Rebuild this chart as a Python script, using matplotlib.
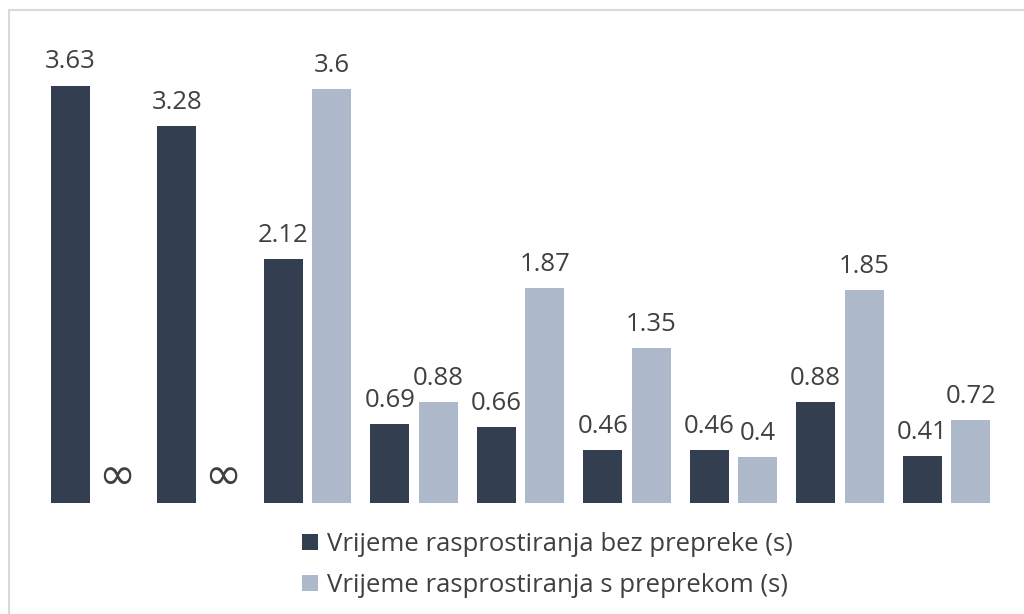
import numpy as np
import matplotlib
matplotlib.use("Agg")
import matplotlib.pyplot as plt
from matplotlib.patches import Rectangle

plt.rcParams['font.family'] = ['Open Sans', 'DejaVu Sans']

no_obstacle = [3.63, 3.28, 2.12, 0.69, 0.66, 0.46, 0.46, 0.88, 0.41]
with_obstacle = [np.inf, np.inf, 3.6, 0.88, 1.87, 1.35, 0.4, 1.85, 0.72]
series_names = ["Vrijeme rasprostiranja bez prepreke (s)",
                "Vrijeme rasprostiranja s preprekom (s)"]
dark = "#333F50"
light = "#ADB9CA"
text_col = "#404040"

fig = plt.figure(figsize=(10.24, 6.14), dpi=100)
ax = fig.add_axes([0, 0, 1, 1])
ax.set_xlim(-94.5 / 106.5, (1024 - 94.5) / 106.5)
ax.set_ylim(-111 / 115, (614 - 111) / 115)
ax.axis('off')

x = np.arange(len(no_obstacle))
w = 0.366
off = 0.228
b1 = ax.bar(x - off, no_obstacle, w, color=dark, label=series_names[0])
finite = [v if np.isfinite(v) else 0 for v in with_obstacle]
b2 = ax.bar(x + off, finite, w, color=light, label=series_names[1])

fs = 18.5
for xi, v in zip(x, no_obstacle):
    ax.annotate(f"{v:g}", (xi - off, v), xytext=(0, 8), textcoords='offset points',
                ha='center', va='bottom', fontsize=fs, color=text_col)
for xi, v in zip(x, with_obstacle):
    if np.isfinite(v):
        ax.annotate(f"{v:g}", (xi + off, v), xytext=(0, 8), textcoords='offset points',
                    ha='center', va='bottom', fontsize=fs, color=text_col)
    else:
        ax.annotate("∞", (xi + off - 0.02, 0), xytext=(0, 4), textcoords='offset points',
                    ha='center', va='bottom', fontsize=32, color=text_col,
                    family=['DejaVu Sans'])

leg = fig.legend(handles=[b1, b2], labels=series_names, loc='upper left',
                 bbox_to_anchor=(292 / 1024, 1 - 522 / 614), frameon=False,
                 fontsize=fs, handlelength=0.6, handleheight=0.6,
                 handletextpad=0.35, labelspacing=0.62, borderaxespad=0)
for t in leg.get_texts():
    t.set_color(text_col)

fig.patches.append(Rectangle((8.5 / 1024, -0.1), 1.2, 1 - 9.5 / 614 + 0.1,
                             transform=fig.transFigure, fill=False,
                             edgecolor="#D9D9D9", linewidth=1.5))

fig.savefig("out.png", dpi=100)
